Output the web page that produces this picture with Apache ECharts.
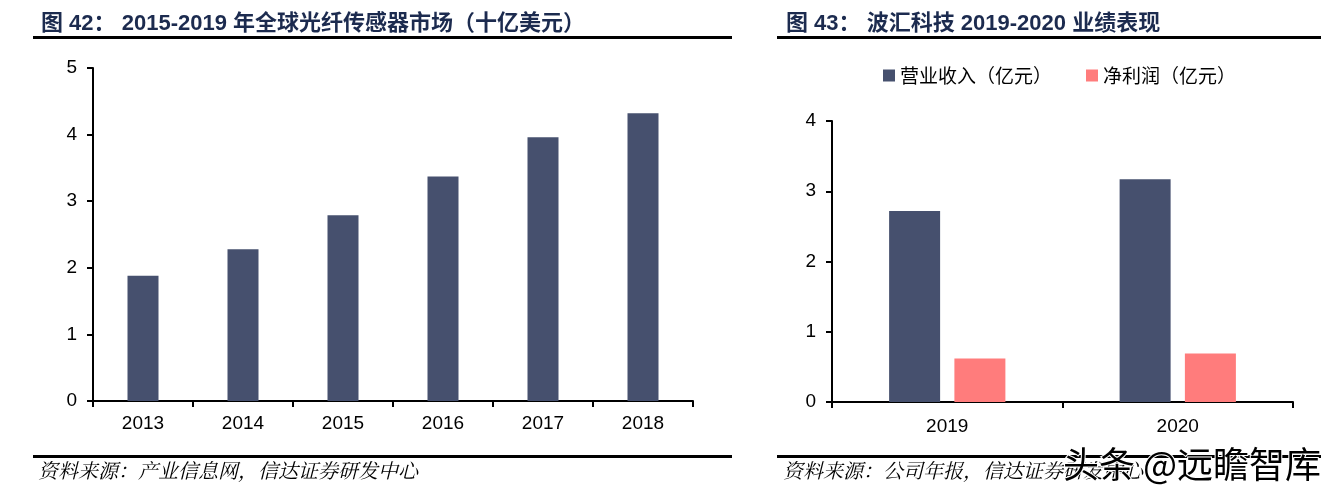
<!DOCTYPE html>
<html><head><meta charset="utf-8">
<script src="https://cdn.jsdelivr.net/npm/echarts@6/dist/echarts.min.js"></script>
<style>html,body{margin:0;padding:0;background:#fff}#c{width:1336px;height:492px}</style>
</head><body><div id="c"></div>
<script>
const years1 = ['2013','2014','2015','2016','2017','2018'];
const market = [1.88, 2.28, 2.79, 3.37, 3.96, 4.32];
const years2 = ['2019','2020'];
const revenue = [2.72, 3.17];
const profit = [0.62, 0.69];
const yTicks1 = [0, 5, 1];
const yTicks2 = [0, 4, 1];

const chart = echarts.init(document.getElementById('c'));
const axLine = {show:true, lineStyle:{color:'#000', width:2}};
const axLabel = {color:'#000', fontSize:19, fontFamily:'Liberation Sans, Arial, sans-serif'};
const titleStyle = {color:'#1c2b4f', fontSize:22, fontWeight:'bold', fontFamily:'Liberation Sans, Noto Sans CJK SC, sans-serif'};
const srcStyle = {fill:'#000', fontSize:20, fontStyle:'italic', fontFamily:'Noto Serif CJK SC, serif'};
chart.setOption({
  animation:false,
  title:[
    {text:'图 42： 2015-2019 年全球光纤传感器市场（十亿美元）', left:36, top:8, textStyle:titleStyle},
    {text:'图 43： 波汇科技 2019-2020 业绩表现', left:781, top:8, textStyle:titleStyle}
  ],
  legend:{
    left:878, top:61, itemWidth:12, itemHeight:12, itemGap:34, icon:'rect',
    textStyle:{fontSize:19, color:'#000', fontFamily:'Noto Sans CJK SC, sans-serif'},
    data:['营业收入（亿元）','净利润（亿元）']
  },
  grid:[
    {left:93, top:68, width:600, height:333},
    {left:832, top:121, width:461, height:281}
  ],
  xAxis:[
    {type:'category', gridIndex:0, data:years1, axisLine:axLine,
     axisTick:{show:true, length:6, lineStyle:{color:'#000', width:2}},
     axisLabel:Object.assign({margin:13}, axLabel)},
    {type:'category', gridIndex:1, data:years2, axisLine:axLine,
     axisTick:{show:true, length:6, lineStyle:{color:'#000', width:2}},
     axisLabel:Object.assign({margin:15}, axLabel)}
  ],
  yAxis:[
    {type:'value', gridIndex:0, min:yTicks1[0], max:yTicks1[1], interval:yTicks1[2],
     axisLine:axLine, axisTick:{show:true, length:6, lineStyle:{color:'#000', width:2}},
     splitLine:{show:false}, axisLabel:Object.assign({margin:16}, axLabel)},
    {type:'value', gridIndex:1, min:yTicks2[0], max:yTicks2[1], interval:yTicks2[2],
     axisLine:axLine, axisTick:{show:true, length:6, lineStyle:{color:'#000', width:2}},
     splitLine:{show:false}, axisLabel:Object.assign({margin:16}, axLabel)}
  ],
  series:[
    {type:'bar', xAxisIndex:0, yAxisIndex:0, data:market, barWidth:31, itemStyle:{color:'#46506e'}},
    {name:'营业收入（亿元）', type:'bar', xAxisIndex:1, yAxisIndex:1, data:revenue, barWidth:51, barGap:'28%', itemStyle:{color:'#46506e'}},
    {name:'净利润（亿元）', type:'bar', xAxisIndex:1, yAxisIndex:1, data:profit, barWidth:51, barGap:'28%', itemStyle:{color:'#ff7c7c'}}
  ],
  graphic:[
    {type:'rect', shape:{x:33, y:36, width:699, height:3}, style:{fill:'#000'}},
    {type:'rect', shape:{x:777, y:36, width:544, height:3}, style:{fill:'#000'}},
    {type:'rect', shape:{x:33, y:455, width:699, height:3}, style:{fill:'#000'}},
    {type:'rect', shape:{x:777, y:455, width:544, height:3}, style:{fill:'#000'}},
    {type:'text', left:38, top:460, style:Object.assign({text:'资料来源：产业信息网，信达证券研发中心'}, srcStyle)},
    {type:'text', left:783, top:460, style:Object.assign({text:'资料来源：公司年报，信达证券研发中心'}, srcStyle)},
    {type:'text', left:1062, top:445, z:100, style:{text:'头条 @远瞻智库', fill:'#000', stroke:'#fff', lineWidth:2, fontSize:36, fontFamily:'Noto Sans CJK SC, sans-serif'}}
  ]
});
</script></body></html>
